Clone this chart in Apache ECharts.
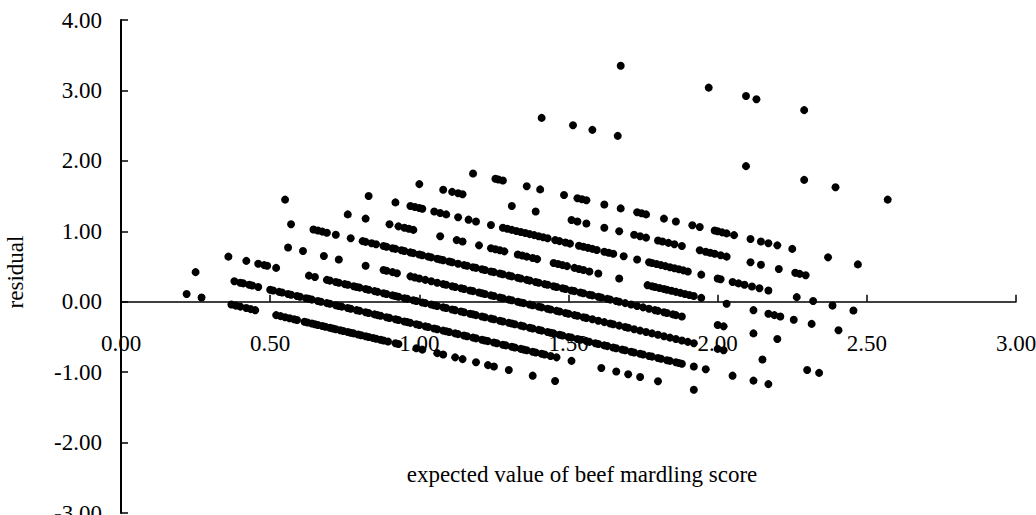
<!DOCTYPE html>
<html>
<head>
<meta charset="utf-8">
<script src="https://cdn.jsdelivr.net/npm/echarts@6/dist/echarts.min.js"></script>
<style>
  html, body { margin: 0; padding: 0; background: #fff; }
  #chart { width: 1036px; height: 515px; }
</style>
</head>
<body>
<div id="chart"></div>
<script>
// Residuals [expected value, residual], grouped by observed marbling score
const obs033 = [[0.22,0.11],[0.27,0.06],[0.37,-0.04],[0.385,-0.055],[0.40,-0.07],[0.42,-0.09],[0.435,-0.105],[0.45,-0.12],
  [0.52,-0.19],[0.535,-0.205],[0.55,-0.22],[0.565,-0.235],[0.58,-0.25],[0.59,-0.26],
  [0.615,-0.285],[0.625,-0.295],[0.64,-0.31],[0.65,-0.32],[0.66,-0.33],[0.675,-0.345],[0.685,-0.355],[0.70,-0.37],[0.71,-0.38],[0.72,-0.39],[0.735,-0.405],[0.745,-0.415],[0.76,-0.43],[0.77,-0.44],[0.78,-0.45],[0.795,-0.465],[0.805,-0.475],[0.82,-0.49],[0.83,-0.50],[0.845,-0.515],[0.855,-0.525],[0.87,-0.54],[0.88,-0.55],[0.895,-0.565],
  [0.92,-0.59],[0.93,-0.60],[0.99,-0.66],[1.01,-0.68],
  [1.06,-0.73],[1.08,-0.75],[1.12,-0.79],[1.145,-0.815],[1.19,-0.86],[1.23,-0.90],[1.25,-0.92],[1.30,-0.97],[1.38,-1.05],[1.455,-1.125]];

const obs067 = [[0.25,0.42],[0.38,0.29],[0.40,0.27],[0.41,0.26],[0.43,0.24],[0.44,0.23],[0.46,0.21],
  [0.50,0.17],[0.51,0.16],[0.53,0.14],[0.54,0.13],[0.56,0.11],[0.57,0.10],[0.59,0.08],[0.60,0.07],[0.62,0.05],[0.63,0.04],[0.64,0.03],[0.66,0.01],[0.67,0.00],[0.69,-0.02],[0.70,-0.03],[0.72,-0.05],[0.73,-0.06],[0.74,-0.07],[0.76,-0.09],[0.77,-0.10],[0.79,-0.12],[0.80,-0.13],[0.82,-0.15],[0.83,-0.16],[0.85,-0.18],[0.86,-0.19],[0.87,-0.20],[0.89,-0.22],[0.90,-0.23],[0.92,-0.25],[0.93,-0.26],[0.95,-0.28],[0.96,-0.29],[0.97,-0.30],[0.99,-0.32],[1.00,-0.33],[1.02,-0.35],[1.03,-0.36],[1.05,-0.38],[1.06,-0.39],[1.08,-0.41],[1.09,-0.42],[1.10,-0.43],[1.12,-0.45],[1.13,-0.46],[1.15,-0.48],[1.16,-0.49],[1.18,-0.51],[1.19,-0.52],[1.21,-0.54],[1.22,-0.55],[1.23,-0.56],[1.25,-0.58],[1.26,-0.59],[1.28,-0.61],[1.29,-0.62],[1.31,-0.64],[1.32,-0.65],[1.34,-0.67],[1.35,-0.68],[1.36,-0.69],[1.38,-0.71],[1.39,-0.72],[1.41,-0.74],[1.42,-0.75],[1.44,-0.77],[1.46,-0.79],
  [1.51,-0.84],[1.61,-0.94],[1.66,-0.99],[1.70,-1.03],[1.74,-1.07],[1.80,-1.13],[1.92,-1.25]];

const obs100 = [[0.36,0.64],[0.42,0.58],[0.46,0.54],[0.48,0.52],[0.49,0.51],[0.52,0.48],[0.63,0.37],[0.65,0.35],
  [0.69,0.31],[0.70,0.30],[0.72,0.28],[0.73,0.27],[0.75,0.25],[0.76,0.24],[0.78,0.22],[0.79,0.21],[0.80,0.20],[0.82,0.18],[0.83,0.17],[0.85,0.15],[0.86,0.14],[0.88,0.12],[0.89,0.11],[0.91,0.09],[0.92,0.08],[0.93,0.07],[0.95,0.05],[0.96,0.04],[0.98,0.02],[0.99,0.01],[1.01,-0.01],[1.02,-0.02],[1.04,-0.04],[1.05,-0.05],[1.06,-0.06],[1.08,-0.08],[1.09,-0.09],[1.11,-0.11],[1.12,-0.12],[1.14,-0.14],[1.15,-0.15],[1.17,-0.17],[1.18,-0.18],[1.19,-0.19],[1.21,-0.21],[1.22,-0.22],[1.24,-0.24],[1.25,-0.25],[1.27,-0.27],[1.28,-0.28],[1.30,-0.30],[1.31,-0.31],[1.32,-0.32],[1.34,-0.34],[1.35,-0.35],[1.37,-0.37],[1.38,-0.38],[1.40,-0.40],[1.41,-0.41],[1.43,-0.43],[1.44,-0.44],[1.45,-0.45],[1.47,-0.47],[1.48,-0.48],[1.50,-0.50],[1.51,-0.51],[1.53,-0.53],[1.54,-0.54],[1.56,-0.56],[1.57,-0.57],[1.59,-0.59],[1.60,-0.60],[1.62,-0.62],[1.63,-0.63],[1.65,-0.65],[1.66,-0.66],[1.68,-0.68],[1.69,-0.69],[1.71,-0.71],[1.72,-0.72],[1.74,-0.74],[1.75,-0.75],[1.77,-0.77],[1.78,-0.78],[1.80,-0.80],[1.81,-0.81],[1.83,-0.83],[1.84,-0.84],[1.86,-0.86],[1.87,-0.87],[1.88,-0.88],
  [1.92,-0.92],[1.96,-0.96],[2.05,-1.05],[2.12,-1.12],[2.17,-1.17]];

const obs133 = [[0.56,0.77],[0.61,0.72],[0.68,0.65],[0.73,0.60],[0.82,0.51],[0.88,0.45],[0.89,0.44],[0.91,0.42],[0.925,0.405],[0.97,0.36],[0.985,0.345],[1.00,0.33],[1.02,0.31],[1.04,0.29],[1.06,0.27],
  [1.08,0.25],[1.09,0.24],[1.11,0.22],[1.12,0.21],[1.14,0.19],[1.15,0.18],[1.17,0.16],[1.18,0.15],[1.20,0.13],[1.21,0.12],[1.22,0.11],[1.24,0.09],[1.25,0.08],[1.27,0.06],[1.28,0.05],[1.30,0.03],[1.31,0.02],[1.33,0.00],[1.34,-0.01],[1.35,-0.02],[1.37,-0.04],[1.38,-0.05],[1.40,-0.07],[1.41,-0.08],[1.43,-0.10],[1.44,-0.11],[1.46,-0.13],[1.47,-0.14],[1.49,-0.16],[1.50,-0.17],[1.52,-0.19],[1.53,-0.20],[1.55,-0.22],[1.56,-0.23],[1.58,-0.25],
  [1.60,-0.27],[1.62,-0.29],[1.64,-0.31],[1.65,-0.32],[1.67,-0.34],[1.69,-0.36],[1.70,-0.37],[1.72,-0.39],[1.74,-0.41],[1.76,-0.43],[1.78,-0.45],[1.80,-0.47],[1.82,-0.49],[1.84,-0.51],[1.86,-0.53],[1.88,-0.55],[1.90,-0.57],[1.92,-0.59],
  [2.00,-0.67],[2.02,-0.69],[2.15,-0.82],[2.30,-0.97],[2.34,-1.01]];

const obs167 = [[0.57,1.10],[0.645,1.025],[0.66,1.01],[0.675,0.995],[0.69,0.98],[0.72,0.95],[0.77,0.90],[0.81,0.86],[0.82,0.85],[0.84,0.83],[0.855,0.815],
  [0.88,0.79],[0.89,0.78],[0.91,0.76],[0.92,0.75],[0.94,0.73],[0.95,0.72],[0.97,0.70],[0.98,0.69],[1.00,0.67],[1.01,0.66],[1.03,0.64],[1.04,0.63],[1.06,0.61],[1.07,0.60],[1.08,0.59],[1.10,0.57],[1.11,0.56],[1.13,0.54],[1.15,0.52],[1.16,0.51],[1.18,0.49],[1.19,0.48],[1.21,0.46],[1.22,0.45],[1.24,0.43],[1.25,0.42],[1.27,0.40],[1.28,0.39],[1.30,0.37],[1.31,0.36],[1.33,0.34],[1.34,0.33],[1.36,0.31],[1.37,0.30],[1.39,0.28],[1.40,0.27],[1.42,0.25],[1.43,0.24],[1.45,0.22],[1.46,0.21],[1.48,0.19],[1.49,0.18],[1.51,0.16],[1.52,0.15],[1.54,0.13],[1.55,0.12],[1.57,0.10],[1.58,0.09],
  [1.60,0.07],[1.61,0.06],[1.63,0.04],[1.64,0.03],[1.66,0.01],[1.67,0.00],[1.69,-0.02],[1.71,-0.04],[1.73,-0.06],[1.75,-0.08],[1.77,-0.10],[1.79,-0.12],[1.80,-0.13],[1.82,-0.15],[1.83,-0.16],[1.85,-0.18],[1.86,-0.19],[1.88,-0.21],
  [2.00,-0.33],[2.02,-0.35],[2.12,-0.45],[2.20,-0.53]];

const obs200 = [[0.55,1.45],[0.76,1.24],[0.82,1.18],[0.90,1.10],[0.93,1.07],[0.95,1.05],[0.965,1.035],[0.98,1.02],[1.07,0.93],[1.125,0.875],[1.145,0.855],[1.20,0.80],[1.24,0.76],[1.255,0.745],[1.27,0.73],[1.285,0.715],[1.33,0.67],[1.345,0.655],[1.36,0.64],[1.38,0.62],[1.395,0.605],[1.45,0.55],[1.465,0.535],[1.48,0.52],[1.495,0.505],[1.52,0.48],[1.535,0.465],[1.55,0.45],[1.57,0.43],[1.60,0.40],[1.67,0.33],
  [1.765,0.235],[1.78,0.22],[1.79,0.21],[1.805,0.195],[1.82,0.18],[1.83,0.17],[1.845,0.155],[1.86,0.14],[1.875,0.125],[1.89,0.11],[1.905,0.095],[1.92,0.08],
  [1.945,0.055],[2.03,-0.03],[2.12,-0.12],[2.17,-0.17],[2.19,-0.19],[2.21,-0.21],[2.255,-0.255],[2.315,-0.315],[2.405,-0.405]];

const obs233 = [[0.83,1.50],[0.92,1.41],[0.97,1.36],[0.985,1.345],[1.00,1.33],[1.01,1.32],[1.05,1.28],[1.07,1.26],[1.09,1.24],[1.13,1.20],[1.165,1.165],[1.19,1.14],[1.24,1.09],[1.28,1.05],[1.295,1.035],[1.31,1.02],[1.325,1.005],[1.34,0.99],[1.355,0.975],[1.37,0.96],[1.385,0.945],[1.40,0.93],[1.415,0.915],[1.43,0.90],[1.455,0.875],[1.47,0.86],[1.49,0.84],[1.505,0.825],[1.535,0.795],[1.55,0.78],[1.565,0.765],[1.58,0.75],[1.595,0.735],[1.62,0.71],[1.635,0.695],[1.65,0.68],[1.685,0.645],[1.73,0.60],[1.77,0.56],[1.78,0.55],[1.795,0.535],[1.81,0.52],[1.825,0.505],[1.84,0.49],[1.855,0.475],[1.87,0.46],[1.885,0.445],[1.90,0.43],[1.945,0.385],[2.00,0.33],[2.01,0.32],[2.05,0.28],[2.07,0.26],[2.09,0.24],[2.115,0.215],[2.14,0.19],[2.17,0.16],[2.265,0.065],[2.32,0.01],[2.385,-0.055],[2.455,-0.125]];

const obs267 = [[1.00,1.67],[1.08,1.59],[1.11,1.56],[1.13,1.54],[1.145,1.525],[1.31,1.36],[1.39,1.28],[1.51,1.16],[1.53,1.14],[1.56,1.11],[1.62,1.05],[1.67,1.00],[1.72,0.95],[1.74,0.93],[1.76,0.91],[1.80,0.87],[1.815,0.855],[1.835,0.835],[1.855,0.815],[1.88,0.79],[1.94,0.73],[1.96,0.71],[1.975,0.695],[1.99,0.68],[2.01,0.66],[2.03,0.64],[2.11,0.56],[2.145,0.525],[2.205,0.465],[2.26,0.41],[2.275,0.395],[2.295,0.375]];

const obs300 = [[1.18,1.82],[1.255,1.745],[1.265,1.735],[1.28,1.72],[1.36,1.64],[1.405,1.595],[1.485,1.515],[1.53,1.47],[1.545,1.455],[1.56,1.44],[1.62,1.38],[1.675,1.325],[1.73,1.27],[1.745,1.255],[1.76,1.24],[1.82,1.18],[1.86,1.14],[1.915,1.085],[1.94,1.06],[1.99,1.01],[2.00,1.00],[2.015,0.985],[2.03,0.97],[2.055,0.945],[2.11,0.89],[2.145,0.855],[2.17,0.83],[2.20,0.80],[2.25,0.75],[2.37,0.63],[2.47,0.53]];

const obs400 = [[1.41,2.61],[1.515,2.505],[1.58,2.44],[1.665,2.355],[2.095,1.925],[2.29,1.73],[2.395,1.625],[2.57,1.45]];

const obs500 = [[1.675,3.35],[1.97,3.04],[2.095,2.92],[2.13,2.875],[2.29,2.72]];

// Axis ranges and titles
const xRange = { min: 0, max: 3, step: 0.5 };
const yRange = { min: -3, max: 4, step: 1 };
const xTitle = 'expected value of beef mardling score';
const yTitle = 'residual';

const allPoints = [].concat(obs033, obs067, obs100, obs133, obs167, obs200, obs233, obs267, obs300, obs400, obs500);

const serif = '"Liberation Serif", "DejaVu Serif", serif';
const ink = '#000';
const fmt = v => v.toFixed(2);

// Plot area in pixels; the x axis is lifted from the bottom edge up to residual = 0
const W = 1036, H = 515;
const plot = { left: 121, right: 20, top: 20, bottom: 2 };
const plotH = H - plot.top - plot.bottom;
const zeroLift = plotH * (0 - yRange.min) / (yRange.max - yRange.min);

const chart = echarts.init(document.getElementById('chart'), null, { renderer: 'svg' });
chart.setOption({
  backgroundColor: '#fff',
  animation: false,
  grid: { left: plot.left, right: plot.right, top: plot.top, bottom: plot.bottom, containLabel: false, outerBoundsMode: 'none' },
  xAxis: {
    type: 'value',
    position: 'bottom',
    offset: -zeroLift,
    min: xRange.min, max: xRange.max, interval: xRange.step,
    axisLine: { show: true, onZero: false, lineStyle: { color: ink, width: 1.5 } },
    axisTick: { show: true, inside: true, length: 7, lineStyle: { color: ink, width: 1.5 } },
    axisLabel: { formatter: fmt, color: ink, fontFamily: serif, fontSize: 23, margin: 30 },
    splitLine: { show: false }
  },
  yAxis: {
    type: 'value',
    min: yRange.min, max: yRange.max, interval: yRange.step,
    axisLine: { show: true, onZero: false, lineStyle: { color: ink, width: 2 } },
    axisTick: { show: true, inside: true, length: 7, lineStyle: { color: ink, width: 1.5 } },
    axisLabel: { formatter: fmt, color: ink, fontFamily: serif, fontSize: 23, margin: 19 },
    splitLine: { show: false }
  },
  graphic: [
    { type: 'text', x: 582, y: 474, style: { text: xTitle, fill: ink, font: '23px ' + serif, textAlign: 'center', textVerticalAlign: 'middle' } },
    { type: 'text', x: 15, y: 272, rotation: Math.PI / 2, style: { text: yTitle, fill: ink, font: '23px ' + serif, textAlign: 'center', textVerticalAlign: 'middle' } }
  ],
  series: [{
    type: 'scatter',
    data: allPoints,
    symbol: 'circle',
    symbolSize: 8,
    itemStyle: { color: ink, opacity: 1 },
    silent: true
  }]
});
</script>
</body>
</html>
